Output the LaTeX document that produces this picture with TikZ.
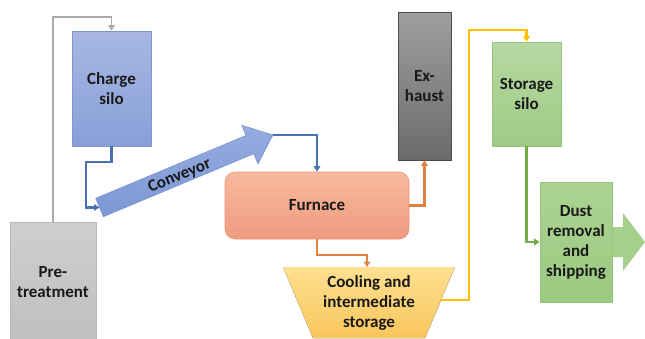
\documentclass[tikz,border=0pt]{standalone}
\usepackage{fontspec}
\setmainfont{Carlito}
\usetikzlibrary{arrows.meta,calc}
\definecolor{lgray}{HTML}{ABABAB}
\definecolor{lblue}{HTML}{4A72B0}
\definecolor{lorange}{HTML}{E0813F}
\definecolor{lyellow}{HTML}{FFC000}
\definecolor{lgreen}{HTML}{70AD47}
\definecolor{chargeT}{RGB}{168,183,226}
\definecolor{chargeB}{RGB}{135,160,216}
\definecolor{chargeD}{RGB}{128,150,205}
\definecolor{furnT}{RGB}{247,185,158}
\definecolor{furnB}{RGB}{240,155,127}
\definecolor{furnD}{RGB}{235,150,120}
\definecolor{storT}{RGB}{182,216,163}
\definecolor{storB}{RGB}{158,204,134}
\definecolor{storD}{RGB}{150,196,125}
\definecolor{dustT}{RGB}{172,211,146}
\definecolor{dustB}{RGB}{155,202,128}
\definecolor{dustA}{RGB}{165,208,140}
\definecolor{coolT}{RGB}{255,224,145}
\definecolor{coolB}{RGB}{249,198,92}
\definecolor{convT}{RGB}{150,172,224}
\definecolor{convB}{RGB}{124,151,212}
\definecolor{convD}{RGB}{120,145,205}
\tikzset{
  box/.style={draw, line width=0.6pt, inner sep=0pt, align=center, font=\fontsize{17}{20}\selectfont\bfseries, text=black!90},
  conn/.style={line width=2.1pt, -{Triangle[width=6.5pt,length=5.5pt]}},
  lbl/.style={font=\fontsize{17}{20}\selectfont\bfseries, text=black!90, align=center, inner sep=0pt},
}
\begin{document}
\begin{tikzpicture}[x=1pt,y=-1pt]
\useasboundingbox[fill=white] (0,0) rectangle (645,338);
% nodes
\node[box, draw=gray!55, top color=gray!38, bottom color=gray!50, minimum width=86, minimum height=120] (pre) at (53,282) {Pre-\\treatment};
\node[box, draw=chargeD, top color=chargeT, bottom color=chargeB, minimum width=79, minimum height=115] (charge) at (111.5,88.5) {Charge\\silo};
\node[box, draw=furnD, rounded corners=10pt, top color=furnT, bottom color=furnB, minimum width=184, minimum height=67] (furnace) at (317,205.5) {Furnace};
\node[box, draw=black!70, top color=black!38, bottom color=black!58, minimum width=53, minimum height=148] (exhaust) at (424.5,86) {Ex-\\haust};
\node[box, draw=storD, top color=storT, bottom color=storB, minimum width=69, minimum height=104] (storage) at (526.5,94) {Storage\\silo};
% dust removal arrow head (behind)
\fill[dustA] (600,227) -- (623,227) -- (623,213) -- (645,242) -- (623,271) -- (623,257) -- (600,257) -- cycle;
\node[box, draw=storD, top color=dustT, bottom color=dustB, minimum width=72, minimum height=120] (dust) at (576,242) {Dust\\removal\\and\\shipping};
% cooling trapezoid
\fill[top color=coolT, bottom color=coolB] (283,267) -- (455,267) -- (425,338) -- (313,338) -- cycle;
\node[lbl, minimum width=172, minimum height=71] (cooling) at (369,302.5) {Cooling and\\intermediate\\storage};
\coordinate (coolR) at (440,300);
% conveyor arrow
\begin{scope}[shift={(99.5,207.5)}, rotate=22.7]
  \shade[top color=convT, bottom color=convB, draw=convD, line width=0.5pt]
    (0pt,10pt) -- (163pt,10pt) -- (163pt,21pt) -- (188pt,0pt) -- (163pt,-21pt) -- (163pt,-10pt) -- (0pt,-10pt) -- cycle;
  \coordinate (convtail) at (0pt,0pt);
  \coordinate (convtip) at (188pt,0pt);
  \node[lbl, rotate=22.7] (convlbl) at (86pt,-2pt) {Conveyor};
\end{scope}
% connectors
\draw[conn, lgray, line width=1.7pt] (pre.north) |- (111.5,17) -- (charge.north);
\draw[conn, lblue] (charge.south) |- (86,162) |- (convtail);
\draw[conn, lblue] (convtip) -| (furnace.north);
\draw[conn, lorange] (furnace.east) -| (exhaust.south);
\draw[conn, lorange] (furnace.south) |- (367,255) -- (367,267);
\draw[conn, lyellow] (coolR) -| (469,30) -| (storage.north);
\draw[conn, lgreen] (storage.south) |- (dust.west);
\end{tikzpicture}
\end{document}
